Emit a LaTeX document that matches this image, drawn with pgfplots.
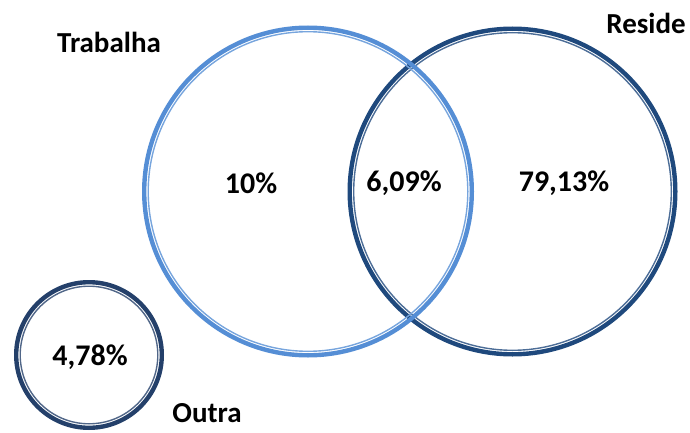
\documentclass[border=0pt]{standalone}
\usepackage{pgfplots}
\pgfplotsset{compat=1.18}
\usepackage{pgfplotstable}
\usepackage{fontspec}
\setmainfont{Carlito}
\definecolor{trab}{HTML}{558ED5}
\definecolor{res}{HTML}{1F497D}
\definecolor{outra}{HTML}{24406A}
\pgfplotstableread{
x y r
512.5 240.5 165
}\reside
\pgfplotstableread{
x y r
308 240.5 166
}\trabalha
\pgfplotstableread{
x y r
89 77 75
}\outra
\pgfplotstableread{
x y label
251 249 10\%
404 249 6,09\%
564 249 79,13\%
90 75 4,78\%
}\values
\pgfplotsset{
  ring/.style 2 args={only marks, mark=o, scatter, scatter/use mapped color={draw=#1},
    visualization depends on={\thisrow{r}-#2 \as \rr},
    scatter/@pre marker code/.append style={/tikz/mark size=\rr}},
}
\begin{document}
\begin{tikzpicture}
\begin{axis}[
  x=1pt, y=1pt,
  xmin=0, xmax=690, ymin=0, ymax=432,
  hide axis, clip=false,
]
\addplot[ring={res}{2.2}, mark options={line width=4.4pt}] table[x=x, y=y] {\reside};
\addplot[ring={res!80!white}{6.2}, mark options={line width=1.4pt}] table[x=x, y=y] {\reside};
\addplot[ring={trab}{2.2}, mark options={line width=4.4pt}] table[x=x, y=y] {\trabalha};
\addplot[ring={trab!80!white}{6.2}, mark options={line width=1.4pt}] table[x=x, y=y] {\trabalha};
\addplot[ring={outra}{2.2}, mark options={line width=4.4pt}] table[x=x, y=y] {\outra};
\addplot[ring={outra!80!white}{6.2}, mark options={line width=1.4pt}] table[x=x, y=y] {\outra};
\addplot[only marks, mark=none, nodes near coords, point meta=explicit symbolic,
  nodes near coords align={center},
  every node near coord/.append style={font=\fontsize{30}{30}\selectfont\bfseries, text=black, anchor=center}]
  table[x=x, y=y, meta=label] {\values};
\node[font=\fontsize{29}{29}\selectfont\bfseries, anchor=center] at (axis cs:109,390) {Trabalha};
\node[font=\fontsize{29}{29}\selectfont\bfseries, anchor=center] at (axis cs:646,409) {Reside};
\node[font=\fontsize{29}{29}\selectfont\bfseries, anchor=center] at (axis cs:207,19) {Outra};
\end{axis}
\pgfresetboundingbox
\path (current axis.south west) rectangle (current axis.north east);
\end{tikzpicture}
\end{document}
